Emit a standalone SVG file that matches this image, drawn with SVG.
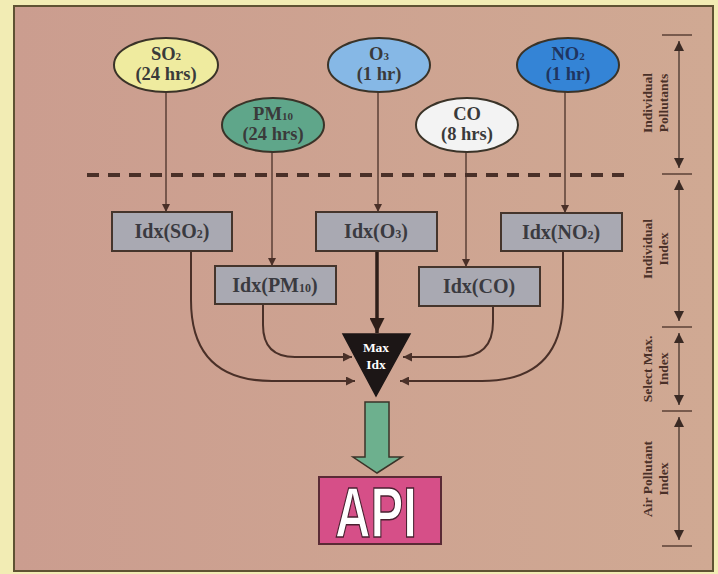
<svg xmlns="http://www.w3.org/2000/svg" width="718" height="574" viewBox="0 0 718 574">
<defs>
<linearGradient id="panel" x1="0" y1="0" x2="1" y2="0">
<stop offset="0" stop-color="#cb9d8f"/>
<stop offset="1" stop-color="#d0a993"/>
</linearGradient>
<marker id="ah" viewBox="0 0 10 10" refX="10" refY="5" markerWidth="9" markerHeight="8" markerUnits="userSpaceOnUse" orient="auto">
<path d="M0,0 L10,5 L0,10 Z" fill="#4a3028"/>
</marker>
<marker id="ahc" viewBox="0 0 10 10" refX="10" refY="5" markerWidth="11" markerHeight="9" markerUnits="userSpaceOnUse" orient="auto">
<path d="M0,0 L10,5 L0,10 Z" fill="#4a3028"/>
</marker>
<marker id="ahb" viewBox="0 0 10 10" refX="10" refY="5" markerWidth="16" markerHeight="15" markerUnits="userSpaceOnUse" orient="auto">
<path d="M0,0 L10,5 L0,10 Z" fill="#2e1e18"/>
</marker>
<marker id="ahs" viewBox="0 0 10 10" refX="10" refY="5" markerWidth="18" markerHeight="10" markerUnits="userSpaceOnUse" orient="auto-start-reverse">
<path d="M0,0 L10,5 L0,10 Z" fill="#3a2a24"/>
</marker>
</defs>
<style>
.serif{font-family:"Liberation Serif","Times New Roman",serif;font-weight:bold;}
.ell{stroke:#3a3328;stroke-width:2;}
.et{font-size:18.5px;fill:#3a3a3a;text-anchor:middle;}
.box{fill:#a9a9b2;stroke:#45352c;stroke-width:2;}
.bt{font-size:20px;fill:#3a3a40;text-anchor:middle;}
.thin{fill:none;stroke:#4a3028;stroke-width:1.3;marker-end:url(#ah);}
.curve{fill:none;stroke:#4a3028;stroke-width:2;marker-end:url(#ahc);}
.tick{stroke:#4a3028;stroke-width:1.3;}
.scale{stroke:#3a2a24;stroke-width:1.2;marker-start:url(#ahs);marker-end:url(#ahs);}
.lbl{font-size:13.5px;fill:#4a3028;text-anchor:middle;}
</style>
<rect x="0" y="0" width="718" height="574" fill="#f2ecb4"/>
<rect x="14" y="6" width="699" height="565" fill="url(#panel)" stroke="#5f5233" stroke-width="2"/>

<!-- divider -->
<line x1="87" y1="175" x2="630" y2="175" stroke="#4a3028" stroke-width="4" stroke-dasharray="12,9"/>

<!-- connectors -->
<g id="connectors">
<path class="thin" d="M166,92 V212"/>
<path class="thin" d="M272,152 V266"/>
<path class="thin" d="M378,92 V212"/>
<path class="thin" d="M466,152 V267"/>
<path class="thin" d="M565,92 V213"/>
<path d="M377,251 V333" fill="none" stroke="#2e1e18" stroke-width="3.5" marker-end="url(#ahb)"/>
<path class="curve" d="M191,251 V300 Q191,381 272,381 H355"/>
<path class="curve" d="M263,304 V325 Q263,357 295,357 H352"/>
<path class="curve" d="M493,306 V322 Q493,357 458,357 H403"/>
<path class="curve" d="M563,251 V300 Q563,381 482,381 H400"/>
</g>

<!-- pollutant ellipses -->
<g id="so2">
<ellipse class="ell" cx="166" cy="65" rx="52" ry="27" fill="#efeb9f"/>
<text class="serif et" x="166" y="60">SO<tspan font-size="11">2</tspan></text>
<text class="serif et" x="166" y="80">(24 hrs)</text>
</g>
<g id="pm10">
<ellipse class="ell" cx="273" cy="125" rx="51" ry="27" fill="#5fa68a"/>
<text class="serif et" x="273" y="120">PM<tspan font-size="11">10</tspan></text>
<text class="serif et" x="273" y="140">(24 hrs)</text>
</g>
<g id="o3">
<ellipse class="ell" cx="379" cy="65" rx="51" ry="27" fill="#86b8e6"/>
<text class="serif et" x="379" y="60">O<tspan font-size="11">3</tspan></text>
<text class="serif et" x="379" y="80">(1 hr)</text>
</g>
<g id="co">
<ellipse class="ell" cx="467" cy="125" rx="51" ry="27" fill="#f3f3f3"/>
<text class="serif et" x="467" y="120">CO</text>
<text class="serif et" x="467" y="140">(8 hrs)</text>
</g>
<g id="no2">
<ellipse class="ell" cx="568" cy="65" rx="51" ry="27" fill="#3484d6"/>
<text class="serif et" x="568" y="60" style="fill:#1f3560">NO<tspan font-size="11">2</tspan></text>
<text class="serif et" x="568" y="80" style="fill:#1f3560">(1 hr)</text>
</g>

<!-- index boxes -->
<g id="idx-so2">
<rect class="box" x="112" y="212" width="120" height="39"/>
<text class="serif bt" x="172" y="238">Idx(SO<tspan font-size="12">2</tspan>)</text>
</g>
<g id="idx-pm10">
<rect class="box" x="215" y="266" width="121" height="38"/>
<text class="serif bt" x="275" y="292">Idx(PM<tspan font-size="12">10</tspan>)</text>
</g>
<g id="idx-o3">
<rect class="box" x="316" y="212" width="121" height="39"/>
<text class="serif bt" x="376" y="238">Idx(O<tspan font-size="12">3</tspan>)</text>
</g>
<g id="idx-co">
<rect class="box" x="419" y="267" width="121" height="39"/>
<text class="serif bt" x="479" y="293">Idx(CO)</text>
</g>
<g id="idx-no2">
<rect class="box" x="501" y="213" width="121" height="38"/>
<text class="serif bt" x="561" y="239">Idx(NO<tspan font-size="12">2</tspan>)</text>
</g>

<!-- max selector -->
<g id="max-idx">
<polygon points="343,334 410,334 376,396" fill="#1c1616" stroke="#1c1616" stroke-width="1.5"/>
<text class="serif" x="376" y="352" font-size="13.5" fill="#ffffff" text-anchor="middle">Max</text>
<text class="serif" x="376" y="369" font-size="13.5" fill="#ffffff" text-anchor="middle">Idx</text>
</g>

<!-- block arrow -->
<g id="block-arrow">
<polygon points="365,402 389,402 389,457 402,457 377,473 353,457 365,457" fill="#6db08e" stroke="#3a3328" stroke-width="1.5"/>
</g>

<!-- API -->
<g id="api">
<rect x="319" y="477" width="122" height="67" fill="#d64f88" stroke="#5a2a35" stroke-width="2"/>
<text x="376" y="537" font-family="'Liberation Sans',Arial,sans-serif" font-weight="bold" font-size="70" fill="#ffffff" stroke="#4a2030" stroke-width="1.5" text-anchor="middle" textLength="82" lengthAdjust="spacingAndGlyphs">API</text>
</g>

<!-- right scale -->
<g id="scale">
<line class="tick" x1="662" y1="35" x2="692" y2="35"/>
<line class="tick" x1="662" y1="174" x2="692" y2="174"/>
<line class="tick" x1="662" y1="327" x2="692" y2="327"/>
<line class="tick" x1="662" y1="411" x2="692" y2="411"/>
<line class="tick" x1="662" y1="546" x2="692" y2="546"/>
<line class="scale" x1="679" y1="41" x2="679" y2="168"/>
<line class="scale" x1="679" y1="180" x2="679" y2="321"/>
<line class="scale" x1="679" y1="333" x2="679" y2="405"/>
<line class="scale" x1="679" y1="417" x2="679" y2="540"/>
<text class="serif lbl" transform="translate(652,103) rotate(-90)">Individual</text>
<text class="serif lbl" transform="translate(668,103) rotate(-90)">Pollutants</text>
<text class="serif lbl" transform="translate(652,249) rotate(-90)">Individual</text>
<text class="serif lbl" transform="translate(668,249) rotate(-90)">Index</text>
<text class="serif lbl" transform="translate(652,369) rotate(-90)">Select Max.</text>
<text class="serif lbl" transform="translate(668,369) rotate(-90)">Index</text>
<text class="serif lbl" transform="translate(652,479) rotate(-90)">Air Pollutant</text>
<text class="serif lbl" transform="translate(668,479) rotate(-90)">Index</text>
</g>
</svg>
